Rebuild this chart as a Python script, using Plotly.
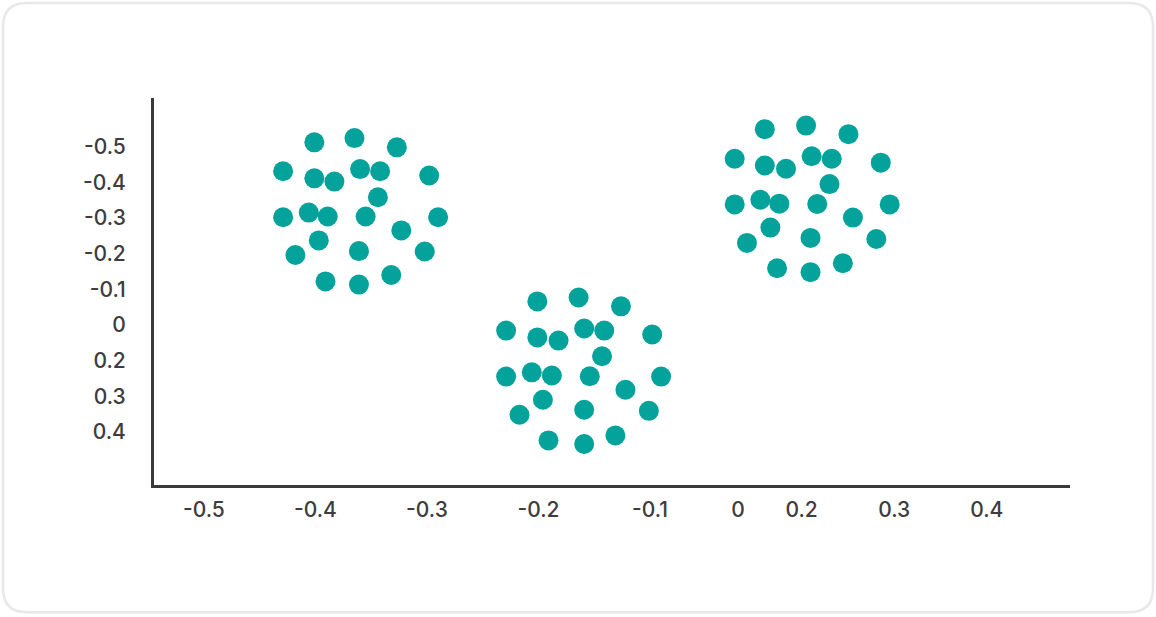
import plotly.graph_objects as go

# three point clouds (axis units)
cluster_a_x = [-0.401, -0.365, -0.327, -0.429, -0.401, -0.383, -0.360, -0.342, -0.298, -0.344, -0.429, -0.406,
               -0.389, -0.355, -0.290, -0.323, -0.397, -0.418, -0.361, -0.302, -0.391, -0.361, -0.332]
cluster_a_y = [-0.512, -0.524, -0.498, -0.431, -0.411, -0.402, -0.437, -0.431, -0.419, -0.358, -0.302, -0.315,
               -0.304, -0.304, -0.302, -0.265, -0.237, -0.196, -0.207, -0.206, -0.122, -0.113, -0.140]
cluster_b_x = [-0.201, -0.164, -0.126, -0.229, -0.201, -0.182, -0.159, -0.141, -0.098, -0.143, -0.229, -0.206,
               -0.188, -0.154, -0.090, -0.122, -0.196, -0.217, -0.159, -0.101, -0.191, -0.159, -0.131]
cluster_b_y = [-0.066, -0.077, -0.052, 0.016, 0.035, 0.044, 0.010, 0.016, 0.027, 0.088, 0.145, 0.133,
               0.142, 0.144, 0.145, 0.182, 0.210, 0.252, 0.238, 0.241, 0.324, 0.334, 0.310]
cluster_c_x = [0.003, 0.040, 0.078, -0.024, 0.003, 0.022, 0.045, 0.063, 0.107, 0.061, -0.024, -0.001,
               0.016, 0.050, 0.115, 0.082, 0.008, -0.013, 0.044, 0.103, 0.014, 0.044, 0.073]
cluster_c_y = [-0.549, -0.559, -0.535, -0.466, -0.447, -0.438, -0.473, -0.466, -0.455, -0.395, -0.338, -0.351,
               -0.340, -0.339, -0.338, -0.301, -0.273, -0.230, -0.244, -0.241, -0.159, -0.148, -0.173]

# tick positions and the labels printed at them
x_tickvals = [-0.5, -0.4, -0.3, -0.2, -0.1, -0.021, 0.036, 0.119, 0.202]
x_ticktext = ["-0.5", "-0.4", "-0.3", "-0.2", "-0.1", "0", "0.2", "0.3", "0.4"]
y_tickvals = [-0.5, -0.4, -0.3, -0.2, -0.1, 0.0, 0.1, 0.2, 0.3]
y_ticktext = ["-0.5", "-0.4", "-0.3", "-0.2", "-0.1", "0", "0.2", "0.3", "0.4"]

teal = "#03A39B"
axis_col = "#3a3a3a"

fig = go.Figure()
for xs, ys in [(cluster_a_x, cluster_a_y), (cluster_b_x, cluster_b_y), (cluster_c_x, cluster_c_y)]:
    fig.add_trace(go.Scatter(x=xs, y=ys, mode="markers",
                             marker=dict(color=teal, size=20, line=dict(width=0)),
                             showlegend=False, hoverinfo="x+y"))

# plot area in px (axis lines are drawn just outside it)
W, H = 1156, 617
L, R, T, B = 154, 1070, 98, 485.5


def px(x):
    return (x - L) / (R - L)


def py(y):
    return (B - y) / (B - T)


# rounded card border drawn in paper units around the plot area
x0, x1, y0, y1, r = 3, 1153, 3, 613, 24
path = (f"M {px(x0 + r)} {py(y0)} L {px(x1 - r)} {py(y0)} Q {px(x1)} {py(y0)} {px(x1)} {py(y0 + r)} "
        f"L {px(x1)} {py(y1 - r)} Q {px(x1)} {py(y1)} {px(x1 - r)} {py(y1)} "
        f"L {px(x0 + r)} {py(y1)} Q {px(x0)} {py(y1)} {px(x0)} {py(y1 - r)} "
        f"L {px(x0)} {py(y0 + r)} Q {px(x0)} {py(y0)} {px(x0 + r)} {py(y0)} Z")
fig.add_shape(type="path", path=path, xref="paper", yref="paper",
              line=dict(color="#e8e8e8", width=2.5), layer="below")

fig.update_layout(
    width=W, height=H,
    margin=dict(l=L, r=W - R, t=T, b=H - B),
    paper_bgcolor="white", plot_bgcolor="white",
    font=dict(family="Inter, 'Open Sans', sans-serif", size=21, color="#3d3d3d", weight=500),
    showlegend=False,
)
fig.update_xaxes(range=[-0.5448, 0.2767], tickvals=x_tickvals, ticktext=x_ticktext,
                 showgrid=False, zeroline=False, showline=True, linecolor=axis_col, linewidth=3,
                 ticks="", ticklabelstandoff=4)
fig.update_yaxes(range=[0.4490, -0.6364], tickvals=y_tickvals, ticktext=y_ticktext,
                 showgrid=False, zeroline=False, showline=True, linecolor=axis_col, linewidth=3,
                 ticks="", ticklabelstandoff=21)

# drop the default page margin so the figure sits at the window origin
fig.write_html("out.html", config={"displayModeBar": False},
               post_script="document.body.style.margin='0';")
